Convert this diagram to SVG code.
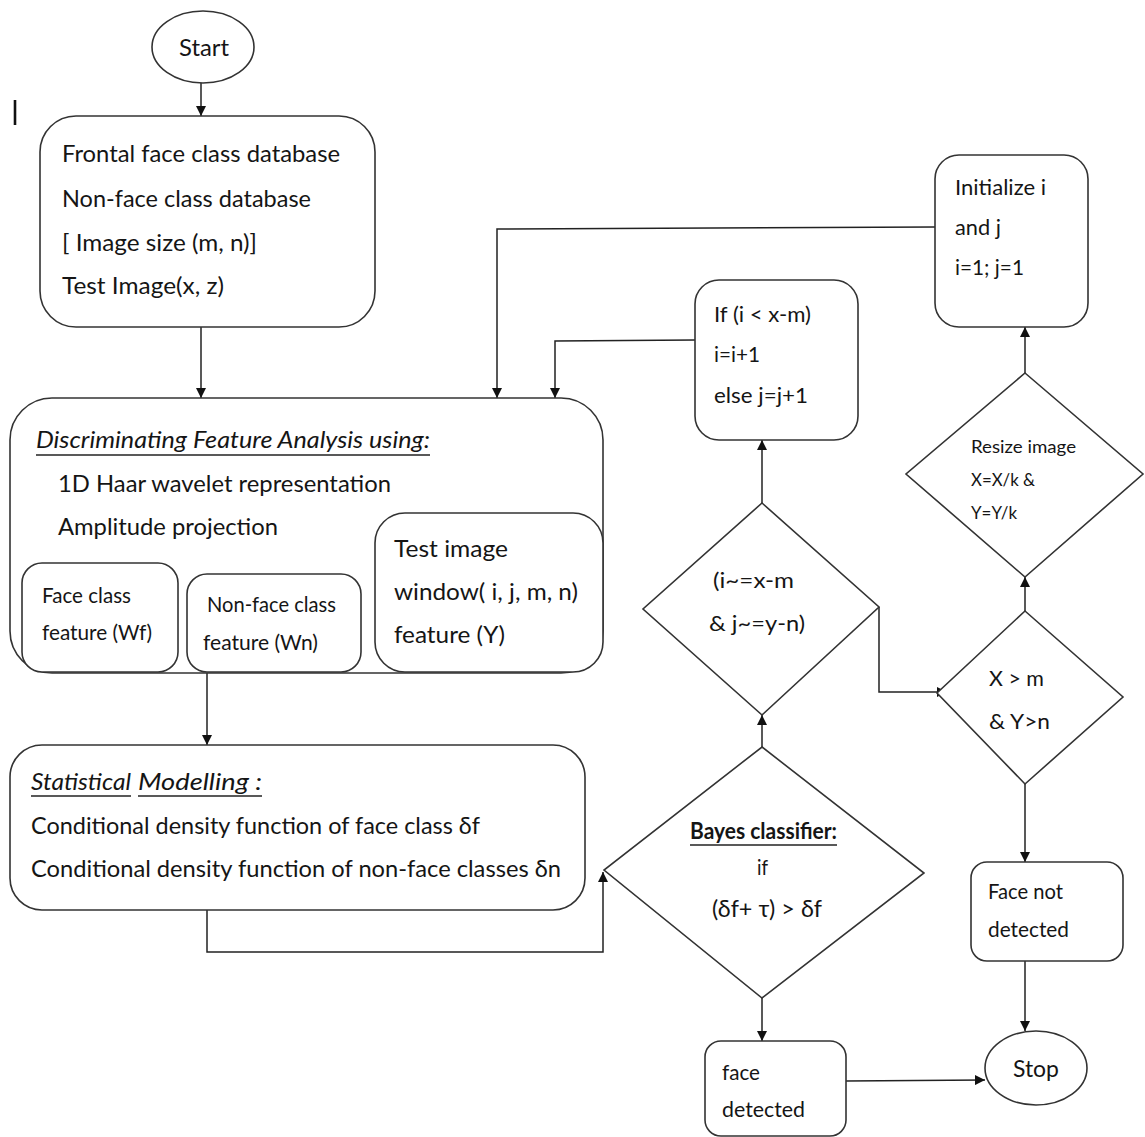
<svg xmlns="http://www.w3.org/2000/svg" width="1145" height="1137" viewBox="0 0 1145 1137">
  <defs>
    <marker id="arrow" viewBox="0 0 10 10" refX="10" refY="5" markerWidth="10" markerHeight="10" markerUnits="userSpaceOnUse" orient="auto">
      <path d="M0,0 L10,5 L0,10 z" fill="#111"/>
    </marker>
    <style>
      .box { fill: #fff; stroke: #333; stroke-width: 1.6; }
      .wire { fill: none; stroke: #222; stroke-width: 1.5; }
      .arr { marker-end: url(#arrow); }
      text { font-family: Lato, "Open Sans", "Liberation Sans", sans-serif; fill: #151515; }
      .t24 { font-size: 24px; }
      .t22 { font-size: 22px; }
      .t18 { font-size: 18px; }
      .it { font-style: italic; }
      .bold { font-weight: bold; }
      .rule { stroke: #222; stroke-width: 1.5; }
    </style>
  </defs>

  <rect width="1145" height="1137" fill="#fff"/>

  <!-- stray cursor mark -->
  <line x1="15" y1="100" x2="15" y2="125" stroke="#111" stroke-width="2.6"/>

  <!-- connectors -->
  <g id="connectors">
    <path class="wire arr" d="M201,83 V116"/>
    <path class="wire arr" d="M201,327 V398"/>
    <path class="wire arr" d="M207,673 V745"/>
    <path class="wire arr" d="M207,910 V952 H603 V872"/>
    <path class="wire arr" d="M762,998 V1041"/>
    <path class="wire arr" d="M846,1081 L985,1080"/>
    <path class="wire arr" d="M762,747 V715"/>
    <path class="wire arr" d="M762,503 V440"/>
    <path class="wire arr" d="M695,340 L555,341 V398"/>
    <path class="wire arr" d="M879,607 V692 H947"/>
    <path class="wire arr" d="M1025,611 V577"/>
    <path class="wire arr" d="M1025,373 V327"/>
    <path class="wire arr" d="M935,227 L497,229 V398"/>
    <path class="wire arr" d="M1025,784 V862"/>
    <path class="wire arr" d="M1025,961 V1031"/>
  </g>

  <!-- Start -->
  <g id="start">
    <ellipse class="box" cx="203" cy="47" rx="51" ry="36"/>
    <text class="t24" x="179" y="56" textLength="50" lengthAdjust="spacingAndGlyphs">Start</text>
  </g>

  <!-- Input databases -->
  <g id="inputs">
    <rect class="box" x="40" y="116" width="335" height="211" rx="36"/>
    <text class="t24" x="62" y="162" textLength="278" lengthAdjust="spacingAndGlyphs">Frontal face class database</text>
    <text class="t24" x="62" y="207" textLength="249" lengthAdjust="spacingAndGlyphs">Non-face class database</text>
    <text class="t24" x="62" y="251" textLength="195" lengthAdjust="spacingAndGlyphs">[ Image size (m, n)]</text>
    <text class="t24" x="62" y="294" textLength="162" lengthAdjust="spacingAndGlyphs">Test Image(x, z)</text>
  </g>

  <!-- Discriminating feature analysis -->
  <g id="feature-analysis">
    <rect class="box" x="10" y="398" width="593" height="275" rx="42"/>
    <text class="t24 it" x="36" y="448" textLength="394" lengthAdjust="spacingAndGlyphs">Discriminating Feature Analysis using:</text>
    <line class="rule" x1="36" y1="455" x2="430" y2="455"/>
    <text class="t24" x="58" y="492" textLength="333" lengthAdjust="spacingAndGlyphs">1D Haar wavelet representation</text>
    <text class="t24" x="58" y="535" textLength="220" lengthAdjust="spacingAndGlyphs">Amplitude projection</text>
  </g>

  <g id="face-feature">
    <rect class="box" x="22" y="563" width="156" height="109" rx="20"/>
    <text class="t22" x="42" y="603" textLength="89" lengthAdjust="spacingAndGlyphs">Face class</text>
    <text class="t22" x="42" y="640" textLength="110" lengthAdjust="spacingAndGlyphs">feature (Wf)</text>
  </g>

  <g id="nonface-feature">
    <rect class="box" x="187" y="574" width="174" height="98" rx="20"/>
    <text class="t22" x="207" y="612" textLength="129" lengthAdjust="spacingAndGlyphs">Non-face class</text>
    <text class="t22" x="203" y="650" textLength="115" lengthAdjust="spacingAndGlyphs">feature (Wn)</text>
  </g>

  <g id="test-feature">
    <rect class="box" x="375" y="513" width="228" height="159" rx="30"/>
    <text class="t24" x="394" y="557" textLength="114" lengthAdjust="spacingAndGlyphs">Test image</text>
    <text class="t24" x="394" y="600" textLength="184" lengthAdjust="spacingAndGlyphs">window( i, j, m, n)</text>
    <text class="t24" x="394" y="643" textLength="111" lengthAdjust="spacingAndGlyphs">feature (Y)</text>
  </g>

  <!-- Statistical modelling -->
  <g id="statistical-modelling">
    <rect class="box" x="10" y="745" width="575" height="165" rx="32"/>
    <text class="t24 it" x="31" y="790" textLength="100" lengthAdjust="spacingAndGlyphs">Statistical</text>
    <text class="t24 it" x="138" y="790" textLength="124" lengthAdjust="spacingAndGlyphs">Modelling  :</text>
    <line class="rule" x1="31" y1="796" x2="131" y2="796"/>
    <line class="rule" x1="138" y1="796" x2="262" y2="796"/>
    <text class="t24" x="31" y="834" textLength="449" lengthAdjust="spacingAndGlyphs">Conditional density function of face class δf</text>
    <text class="t24" x="31" y="877" textLength="530" lengthAdjust="spacingAndGlyphs">Conditional density function of non-face classes  δn</text>
  </g>

  <!-- Bayes classifier -->
  <g id="bayes">
    <polygon class="box" points="762,747 924,873 762,998 604,870"/>
    <text class="t22 bold" x="690" y="839" textLength="147" lengthAdjust="spacingAndGlyphs">Bayes classifier:</text>
    <line class="rule" x1="690" y1="845" x2="837" y2="845"/>
    <text class="t22" x="757" y="875" textLength="11" lengthAdjust="spacingAndGlyphs">if</text>
    <text class="t24" x="712" y="917" textLength="110" lengthAdjust="spacingAndGlyphs">(δf+ τ) &gt; δf</text>
  </g>

  <!-- Face detected -->
  <g id="face-detected">
    <rect class="box" x="705" y="1041" width="141" height="95" rx="16"/>
    <text class="t22" x="722" y="1080" textLength="38" lengthAdjust="spacingAndGlyphs">face</text>
    <text class="t22" x="722" y="1117" textLength="83" lengthAdjust="spacingAndGlyphs">detected</text>
  </g>

  <!-- Stop -->
  <g id="stop">
    <ellipse class="box" cx="1036" cy="1068" rx="51" ry="37"/>
    <text class="t24" x="1013" y="1077" textLength="46" lengthAdjust="spacingAndGlyphs">Stop</text>
  </g>

  <!-- Window range check -->
  <g id="window-check">
    <polygon class="box" points="762,503 879,607 762,715 643,609"/>
    <text class="t22" x="713" y="588" textLength="81" lengthAdjust="spacingAndGlyphs">(i~=x-m</text>
    <text class="t22" x="709" y="631" textLength="96" lengthAdjust="spacingAndGlyphs">&amp; j~=y-n)</text>
  </g>

  <!-- Window index update -->
  <g id="index-update">
    <rect class="box" x="695" y="280" width="163" height="160" rx="24"/>
    <text class="t22" x="714" y="322" textLength="97" lengthAdjust="spacingAndGlyphs">If (i &lt; x-m)</text>
    <text class="t22" x="714" y="362" textLength="46" lengthAdjust="spacingAndGlyphs">i=i+1</text>
    <text class="t22" x="714" y="403" textLength="94" lengthAdjust="spacingAndGlyphs">else j=j+1</text>
  </g>

  <!-- Image size check -->
  <g id="size-check">
    <polygon class="box" points="1025,611 1123,697 1025,784 937,693"/>
    <text class="t22" x="989" y="686" textLength="55" lengthAdjust="spacingAndGlyphs">X &gt; m</text>
    <text class="t22" x="989" y="729" textLength="61" lengthAdjust="spacingAndGlyphs">&amp; Y&gt;n</text>
  </g>

  <!-- Resize -->
  <g id="resize">
    <polygon class="box" points="1025,373 1143,474 1025,577 906,474"/>
    <text class="t18" x="971" y="453" textLength="105" lengthAdjust="spacingAndGlyphs">Resize image</text>
    <text class="t18" x="971" y="486" textLength="64" lengthAdjust="spacingAndGlyphs">X=X/k &amp;</text>
    <text class="t18" x="971" y="519" textLength="46" lengthAdjust="spacingAndGlyphs">Y=Y/k</text>
  </g>

  <!-- Initialize -->
  <g id="initialize">
    <rect class="box" x="935" y="155" width="153" height="172" rx="24"/>
    <text class="t22" x="955" y="195" textLength="91" lengthAdjust="spacingAndGlyphs">Initialize i</text>
    <text class="t22" x="955" y="235" textLength="46" lengthAdjust="spacingAndGlyphs">and j</text>
    <text class="t22" x="955" y="275" textLength="69" lengthAdjust="spacingAndGlyphs">i=1; j=1</text>
  </g>

  <!-- Face not detected -->
  <g id="face-not-detected">
    <rect class="box" x="971" y="862" width="152" height="99" rx="16"/>
    <text class="t22" x="988" y="899" textLength="75" lengthAdjust="spacingAndGlyphs">Face not</text>
    <text class="t22" x="988" y="937" textLength="81" lengthAdjust="spacingAndGlyphs">detected</text>
  </g>
</svg>
